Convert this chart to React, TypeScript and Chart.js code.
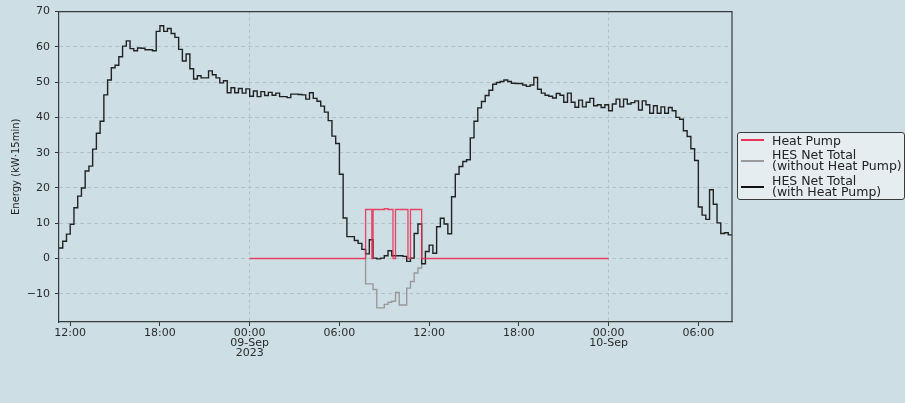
import React, { useEffect, useRef } from 'react';
import { Chart, registerables } from 'chart.js';

Chart.register(...registerables);

// Time axis: hours since 2023-09-08 00:00, 15-minute steps
const START_HOUR = 11.25;
const STEP_HOURS = 0.25;

// HES Net Total (with Heat Pump), 15-min values from 08-Sep 11:15
const netWithHeatPump = [
  3.0, 4.9, 6.9, 9.7, 14.4, 17.7, 20.0, 24.8, 26.2, 31.0,
  35.5, 38.9, 46.4, 50.6, 54.1, 54.8, 57.2, 60.2, 61.7, 59.5,
  58.9, 59.7, 59.6, 59.2, 59.2, 58.9, 64.4, 66.0, 64.4, 65.2,
  63.8, 62.7, 59.3, 56.0, 58.0, 53.8, 50.9, 51.8, 51.2, 51.2,
  53.2, 52.1, 51.2, 49.8, 50.4, 47.0, 48.4, 47.0, 48.2, 46.9,
  48.1, 46.0, 47.5, 45.9, 47.3, 46.2, 47.1, 46.3, 46.9, 45.9,
  45.9, 45.6, 46.6, 46.6, 46.5, 46.4, 45.2, 47.0, 45.4, 44.6,
  43.2, 41.5, 39.1, 34.7, 32.6, 23.9, 11.5, 6.2, 6.2, 5.1,
  4.3, 2.6, 1.3, 5.3, 0.1, -0.1, 0.1, 0.8, 2.2, 0.8,
  0.8, 0.8, 0.6, -0.8, 0.1, 7.1, 9.8, -1.5, 2.0, 3.8,
  1.5, 9.0, 11.4, 9.8, 7.0, 17.5, 23.9, 26.1, 27.5, 28.0,
  34.2, 38.9, 42.7, 44.5, 46.2, 47.7, 49.4, 49.9, 50.2, 50.6,
  50.2, 49.7, 49.6, 49.6, 49.2, 48.8, 49.2, 51.3, 48.0, 46.9,
  46.3, 46.0, 45.5, 46.8, 46.3, 44.3, 46.9, 44.3, 42.9, 44.9,
  43.0, 44.3, 45.4, 43.3, 43.6, 42.8, 43.6, 41.9, 43.8, 45.2,
  43.0, 45.2, 43.8, 44.2, 44.7, 42.1, 44.7, 43.6, 41.2, 43.3,
  41.2, 43.0, 41.2, 42.8, 41.9, 40.0, 39.5, 36.2, 34.6, 31.1,
  27.8, 14.6, 12.3, 11.1, 19.5, 15.4, 10.1, 7.1, 7.3, 6.7,
];

// HES Net Total (without Heat Pump): where it departs from the total (09-Sep 07:30 onward)
const netWithoutHeatPumpStartHour = 31.5;
const netWithoutHeatPump = [
  2.6, -7.2, -7.2, -8.8, -14.0, -14.0, -13.0, -12.4, -12.1,
  -9.6, -13.2, -13.2, -8.4, -6.5, -4.1, -2.7, -1.5,
];

// Heat Pump (step series, hours since 08-Sep 00:00)
const heatPumpHours = [24, 31.75, 32.167, 32.25, 33.0, 33.25, 33.583, 33.75, 34.583, 34.75, 35.5, 48];
const heatPumpValues = [0, 13.9, 0, 13.9, 14.1, 13.9, 0, 13.9, 0, 13.9, 0, 0];

const xTickHours = [12, 18, 24, 30, 36, 42, 48, 54];
const xTickLabels = [
  ['12:00'], ['18:00'], ['00:00', '09-Sep', '2023'], ['06:00'],
  ['12:00'], ['18:00'], ['00:00', '10-Sep'], ['06:00'],
];
const yTickStep = 10;

const BG = '#cddee4';
const GRID = '#b2c0c6';
const FONT = "'DejaVu Sans', sans-serif";

export default function App() {
  const ref = useRef<HTMLCanvasElement | null>(null);

  useEffect(() => {
    const canvas = ref.current;
    if (!canvas) return;

    const black = netWithHeatPump.map((v, i) => ({ x: START_HOUR + i * STEP_HOURS, y: v }));
    black.push({ x: START_HOUR + netWithHeatPump.length * STEP_HOURS, y: netWithHeatPump[netWithHeatPump.length - 1] });
    const gray = netWithoutHeatPump.map((v, i) => ({ x: netWithoutHeatPumpStartHour + i * STEP_HOURS, y: v }));
    const hp = heatPumpHours.map((h, i) => ({ x: h, y: heatPumpValues[i] }));

    const frame = {
      id: 'frame',
      afterDraw(c: any) {
        const { ctx, chartArea: a } = c;
        ctx.save();
        ctx.strokeStyle = '#3a3a3a';
        ctx.lineWidth = 1.2;
        ctx.beginPath();
        ctx.moveTo(a.left, a.top);
        ctx.lineTo(a.right, a.top);
        ctx.lineTo(a.right, a.bottom);
        ctx.stroke();
        ctx.restore();
      },
    };

    const chart = new Chart(canvas, {
      type: 'line',
      data: {
        datasets: [
          {
            label: 'Heat Pump',
            data: hp,
            borderColor: 'rgba(235, 40, 80, 0.85)',
            borderWidth: 1.3,
            stepped: 'before',
            pointRadius: 0,
            fill: false,
          },
          {
            label: 'HES Net Total (with Heat Pump)',
            data: black,
            borderColor: '#222',
            borderWidth: 1.4,
            stepped: 'before',
            pointRadius: 0,
            fill: false,
          },
          {
            label: 'HES Net Total (without Heat Pump)',
            data: gray,
            borderColor: '#999',
            borderWidth: 1.4,
            stepped: 'before',
            pointRadius: 0,
            fill: false,
          },
        ],
      },
      options: {
        animation: false,
        responsive: false,
        layout: { padding: { left: 0, top: 10, right: 173, bottom: 0 } },
        plugins: { legend: { display: false }, tooltip: { enabled: false } },
        scales: {
          x: {
            type: 'linear',
            min: 11.25,
            max: 56.25,
            afterBuildTicks: (s: any) => {
              s.ticks = xTickHours.map((v) => ({ value: v }));
            },
            afterFit: (s: any) => {
              s.height = 81;
            },
            ticks: {
              autoSkip: false,
              maxRotation: 0,
              minRotation: 0,
              padding: 2,
              color: '#2b2b2b',
              font: { family: FONT, size: 11, lineHeight: 0.9 },
              callback: (v: any) => {
                const i = xTickHours.indexOf(Number(v));
                return i >= 0 ? xTickLabels[i] : '';
              },
            },
            grid: {
              color: (ctx: any) =>
                ctx.tick && (ctx.tick.value === 24 || ctx.tick.value === 48) ? GRID : 'rgba(0,0,0,0)',
              tickColor: '#333',
              tickLength: 4,
              lineWidth: 1,
            },
            border: { display: true, color: '#3a3a3a', width: 1.2, dash: [3, 3] },
          },
          y: {
            min: -18,
            max: 70,
            afterFit: (s: any) => {
              s.width = 59;
            },
            ticks: {
              stepSize: yTickStep,
              includeBounds: false,
              padding: 5,
              color: '#2b2b2b',
              font: { family: FONT, size: 11 },
              callback: (v: any) => String(v).replace('-', '\u2212'),
            },
            title: {
              display: true,
              text: 'Energy (kW·15min)',
              color: '#222',
              font: { family: FONT, size: 10 },
              padding: { top: 10, bottom: 0 },
            },
            grid: { color: GRID, tickColor: '#333', tickLength: 4, lineWidth: 1 },
            border: { display: true, color: '#3a3a3a', width: 1.2, dash: [4, 3] },
          },
        },
      },
      plugins: [frame],
    } as any);

    return () => chart.destroy();
  }, []);

  const textStyle: React.CSSProperties = {
    position: 'absolute',
    left: 772,
    fontFamily: FONT,
    fontSize: 12.5,
    lineHeight: '11px',
    color: '#222',
    whiteSpace: 'nowrap',
  };
  const swatch = (top: number, color: string): React.CSSProperties => ({
    position: 'absolute',
    left: 741,
    top: top - 1,
    width: 23,
    height: 2,
    background: color,
  });

  return (
    <div
      style={{
        position: 'fixed',
        left: 0,
        top: 0,
        width: 905,
        height: 403,
        background: BG,
        overflow: 'hidden',
      }}
    >
      <canvas ref={ref} width={905} height={403} style={{ display: 'block' }} />
      <div
        style={{
          position: 'absolute',
          left: 737,
          top: 132,
          width: 168,
          height: 68,
          border: '1px solid #3a3a3a',
          borderRadius: 3,
          background: '#e5edf0',
          boxSizing: 'border-box',
        }}
      />
      <div style={swatch(140, 'rgba(235, 40, 80, 0.95)')} />
      <div style={swatch(161, '#9a9a9a')} />
      <div style={swatch(187, '#111')} />
      <div style={{ ...textStyle, top: 134.5 }}>Heat Pump</div>
      <div style={{ ...textStyle, top: 148.5 }}>
        HES Net Total
        <br />
        (without Heat Pump)
      </div>
      <div style={{ ...textStyle, top: 174.5 }}>
        HES Net Total
        <br />
        (with Heat Pump)
      </div>
    </div>
  );
}
